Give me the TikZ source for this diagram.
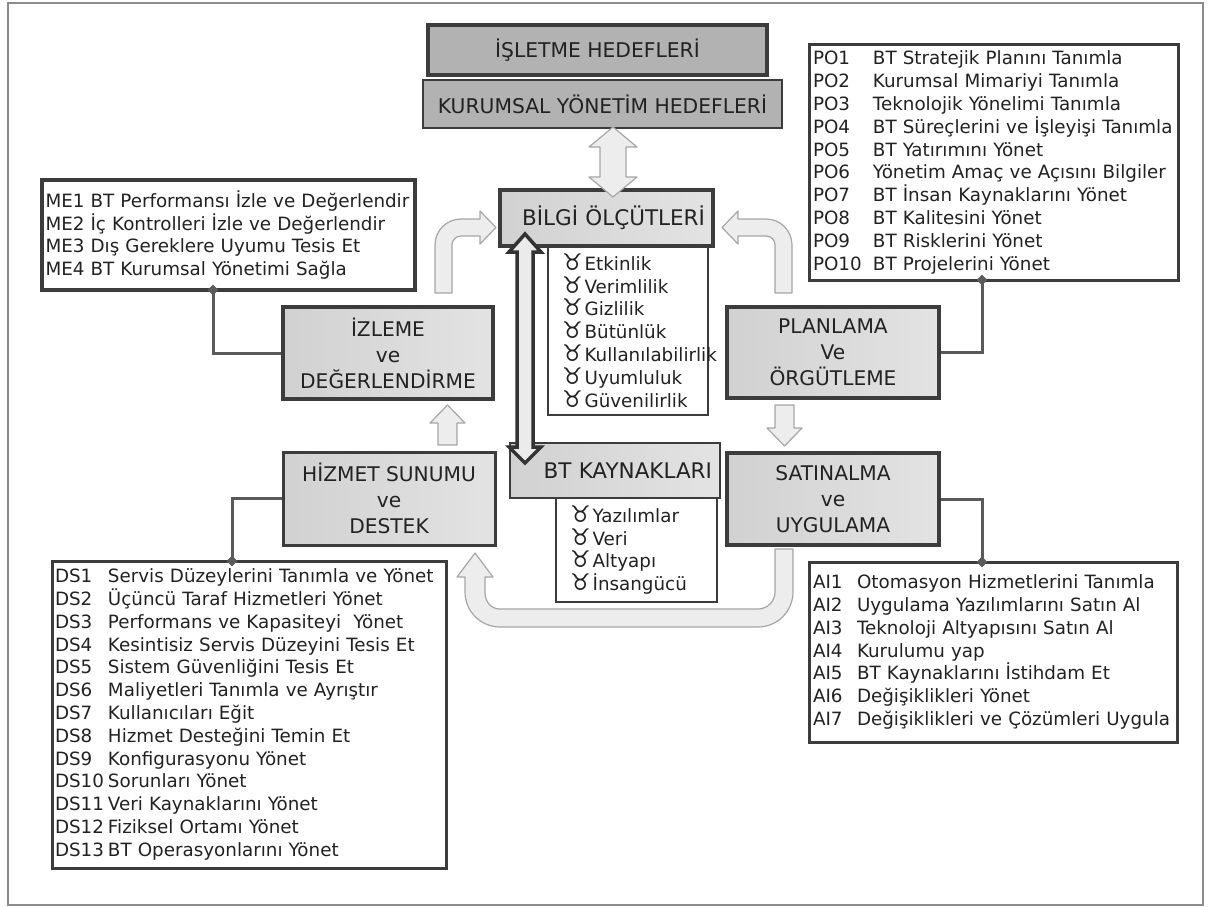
\documentclass[tikz,border=0pt]{standalone}
\usepackage{fontspec}
\setmainfont{DejaVu Sans}
\usetikzlibrary{shapes.geometric}
\definecolor{boxline}{HTML}{3C3C3C}
\definecolor{txt}{HTML}{222222}
\definecolor{arrfill}{HTML}{EDEDED}
\definecolor{arrline}{HTML}{A6A6A6}
\definecolor{titlefill}{HTML}{B2B2B2}
\definecolor{conline}{HTML}{5A5A5A}
\newcommand{\crit}[1]{\mbox{{\fontsize{23}{23}\selectfont ♉}\hspace{2pt}#1}}
\newcommand{\kod}[3]{\mbox{\makebox[#1][l]{#2}#3}}

\begin{document}
\begin{tikzpicture}[x=1pt,y=-1pt,
  titlebox/.style={draw=boxline, fill=titlefill, text=txt, font=\fontsize{20.3}{24}\selectfont, inner sep=0pt},
  areabox/.style={draw=boxline, line width=4pt, left color=black!18, middle color=black!28, right color=black!11, text=txt, align=center, font=\fontsize{20.2}{26}\selectfont, inner sep=0pt},
  listbox/.style={draw=boxline, fill=white, line width=2.5pt, text=txt, align=left, inner ysep=0pt, font=\fontsize{18.3}{22.8}\selectfont},
  dot/.style={diamond, fill=conline, inner sep=0pt, minimum size=11pt},
  conn/.style={draw=conline, line width=3pt},
  blockarrow/.style={draw=arrline, fill=arrfill, line width=1.2pt, line join=round}]

\useasboundingbox (0,0) rectangle (1211,907);
\draw[black!45, line width=2pt] (8,3) rectangle (1203,905);

\node[titlebox, line width=4.5pt, minimum width=339pt, minimum height=50pt] (isletme) at (597.5,50) {İŞLETME HEDEFLERİ};
\node[titlebox, line width=2.5pt, minimum width=359pt, minimum height=48pt] (kurumsal) at (602.5,104) {KURUMSAL YÖNETİM HEDEFLERİ};

\node[listbox, line width=2pt, minimum width=160pt, minimum height=169pt, inner xsep=14pt, text width=132pt] (kriter) at (628,330.5) {\crit{Etkinlik}\\ \crit{Verimlilik}\\ \crit{Gizlilik}\\ \crit{Bütünlük}\\ \crit{Kullanılabilirlik}\\ \crit{Uyumluluk}\\ \crit{Güvenilirlik}};
\node[areabox, minimum width=213pt, minimum height=56pt, text width=197pt, align=right, font=\fontsize{21.5}{26}\selectfont] (bilgi) at (606.5,218) {BİLGİ ÖLÇÜTLERİ};

\node[listbox, line width=2pt, minimum width=161pt, minimum height=104pt, inner xsep=14pt, text width=133pt] (kaynaklist) at (636.5,550) {\crit{Yazılımlar}\\ \crit{Veri}\\ \crit{Altyapı}\\ \crit{İnsangücü}};
\node[areabox, line width=2.5pt, minimum width=210pt, minimum height=55pt, text width=194pt, align=right, font=\fontsize{21.5}{26}\selectfont] (kaynak) at (615,470.5) {BT KAYNAKLARI};

\node[listbox, line width=4pt, minimum width=373pt, minimum height=110pt, inner xsep=3.5pt, text width=366pt] (melist) at (228.5,235) {\mbox{ME1 BT Performansı İzle ve Değerlendir}\\ \mbox{ME2 İç Kontrolleri İzle ve Değerlendir}\\ \mbox{ME3 Dış Gereklere Uyumu Tesis Et}\\ \mbox{ME4 BT Kurumsal Yönetimi Sağla}};

\node[listbox, line width=3pt, minimum width=369pt, minimum height=235pt, inner xsep=4pt, text width=361pt] (polist) at (993.5,162.5) {\kod{60pt}{PO1}{BT Stratejik Planını Tanımla}\\ \kod{60pt}{PO2}{Kurumsal Mimariyi Tanımla}\\ \kod{60pt}{PO3}{Teknolojik Yönelimi Tanımla}\\ \kod{60pt}{PO4}{BT Süreçlerini ve İşleyişi Tanımla}\\ \kod{60pt}{PO5}{BT Yatırımını Yönet}\\ \kod{60pt}{PO6}{Yönetim Amaç ve Açısını Bilgiler}\\ \kod{60pt}{PO7}{BT İnsan Kaynaklarını Yönet}\\ \kod{60pt}{PO8}{BT Kalitesini Yönet}\\ \kod{60pt}{PO9}{BT Risklerini Yönet}\\ \kod{60pt}{PO10}{BT Projelerini Yönet}};

\node[listbox, line width=3pt, minimum width=368pt, minimum height=180pt, inner xsep=4pt, text width=360pt] (ailist) at (993,652) {\kod{44pt}{AI1}{Otomasyon Hizmetlerini Tanımla}\\ \kod{44pt}{AI2}{Uygulama Yazılımlarını Satın Al}\\ \kod{44pt}{AI3}{Teknoloji Altyapısını Satın Al}\\ \kod{44pt}{AI4}{Kurulumu yap}\\ \kod{44pt}{AI5}{BT Kaynaklarını İstihdam Et}\\ \kod{44pt}{AI6}{Değişiklikleri Yönet}\\ \kod{44pt}{AI7}{Değişiklikleri ve Çözümleri Uygula}};

\node[listbox, line width=3pt, minimum width=394pt, minimum height=307pt, inner xsep=3pt, text width=388pt] (dslist) at (249,714.5) {\kod{53pt}{DS1}{Servis Düzeylerini Tanımla ve Yönet}\\ \kod{53pt}{DS2}{Üçüncü Taraf Hizmetleri Yönet}\\ \kod{53pt}{DS3}{Performans ve Kapasiteyi\ \ Yönet}\\ \kod{53pt}{DS4}{Kesintisiz Servis Düzeyini Tesis Et}\\ \kod{53pt}{DS5}{Sistem Güvenliğini Tesis Et}\\ \kod{53pt}{DS6}{Maliyetleri Tanımla ve Ayrıştır}\\ \kod{53pt}{DS7}{Kullanıcıları Eğit}\\ \kod{53pt}{DS8}{Hizmet Desteğini Temin Et}\\ \kod{53pt}{DS9}{Konfigurasyonu Yönet}\\ \kod{53pt}{DS10}{Sorunları Yönet}\\ \kod{53pt}{DS11}{Veri Kaynaklarını Yönet}\\ \kod{53pt}{DS12}{Fiziksel Ortamı Yönet}\\ \kod{53pt}{DS13}{BT Operasyonlarını Yönet}};

\node[areabox, minimum width=210pt, minimum height=92pt] (izleme) at (388,353) {İZLEME\\ ve\\ DEĞERLENDİRME};
\node[areabox, minimum width=212pt, minimum height=91pt] (planlama) at (833,352.5) {PLANLAMA\\ Ve\\ ÖRGÜTLEME};
\node[areabox, minimum width=212pt, minimum height=92pt] (satinalma) at (833,499) {SATINALMA\\ ve\\ UYGULAMA};
\node[areabox, line width=3pt, minimum width=212pt, minimum height=93pt] (hizmet) at (389,498.5) {HİZMET SUNUMU\\ ve\\ DESTEK};

\node[dot] (medot) at (213,290) {};
\node[dot] (podot) at (982,280) {};
\node[dot] (aidot) at (982,562) {};
\node[dot] (dsdot) at (232,561) {};
\draw[conn] (medot.center) |- (izleme.west);
\draw[conn] (podot.center) |- (planlama.east);
\draw[conn] (aidot.center) |- (satinalma.east);
\draw[conn] (dsdot.center) |- (hizmet.west);

\filldraw[blockarrow] (613,127) -- (637,147) -- (626,147) -- (626,177) -- (637,177) -- (613,197) -- (589,177) -- (600,177) -- (600,147) -- (589,147) -- cycle;
\filldraw[blockarrow] (435,293) -- (435,245) .. controls (435,230.6) and (446.6,219) .. (461,219) -- (480,219) -- (480,211) -- (496,227.5) -- (480,244) -- (480,236) -- (461,236) .. controls (456,236) and (452,240) .. (452,245) -- (452,293) -- cycle;
\filldraw[blockarrow] (792,293) -- (792,245) .. controls (792,230.6) and (780.4,219) .. (766,219) -- (738,219) -- (738,211) -- (722,227.5) -- (738,244) -- (738,236) -- (766,236) .. controls (771,236) and (775,240) .. (775,245) -- (775,293) -- cycle;
\filldraw[blockarrow] (775,405) -- (794,405) -- (794,428) -- (802,428) -- (784.5,446) -- (767,428) -- (775,428) -- cycle;
\filldraw[blockarrow] (438,445) -- (457,445) -- (457,423) -- (465,423) -- (447.5,405) -- (430,423) -- (438,423) -- cycle;
\filldraw[blockarrow] (775,549) -- (793,549) -- (793,592) .. controls (793,611.3) and (777.3,627) .. (758,627) -- (500,627) .. controls (480.7,627) and (465,611.3) .. (465,592) -- (465,577) -- (457,577) -- (475,553) -- (493,577) -- (485,577) -- (485,592) .. controls (485,601.4) and (490.6,609) .. (500,609) -- (758,609) .. controls (767.4,609) and (775,601.4) .. (775,592) -- cycle;

\filldraw[draw=black!80, fill=black!8, line width=3.5pt] (525,234) -- (541,252) -- (533,252) -- (533,447) -- (541,447) -- (525,463) -- (509,447) -- (517,447) -- (517,252) -- (509,252) -- cycle;

\end{tikzpicture}
\end{document}
